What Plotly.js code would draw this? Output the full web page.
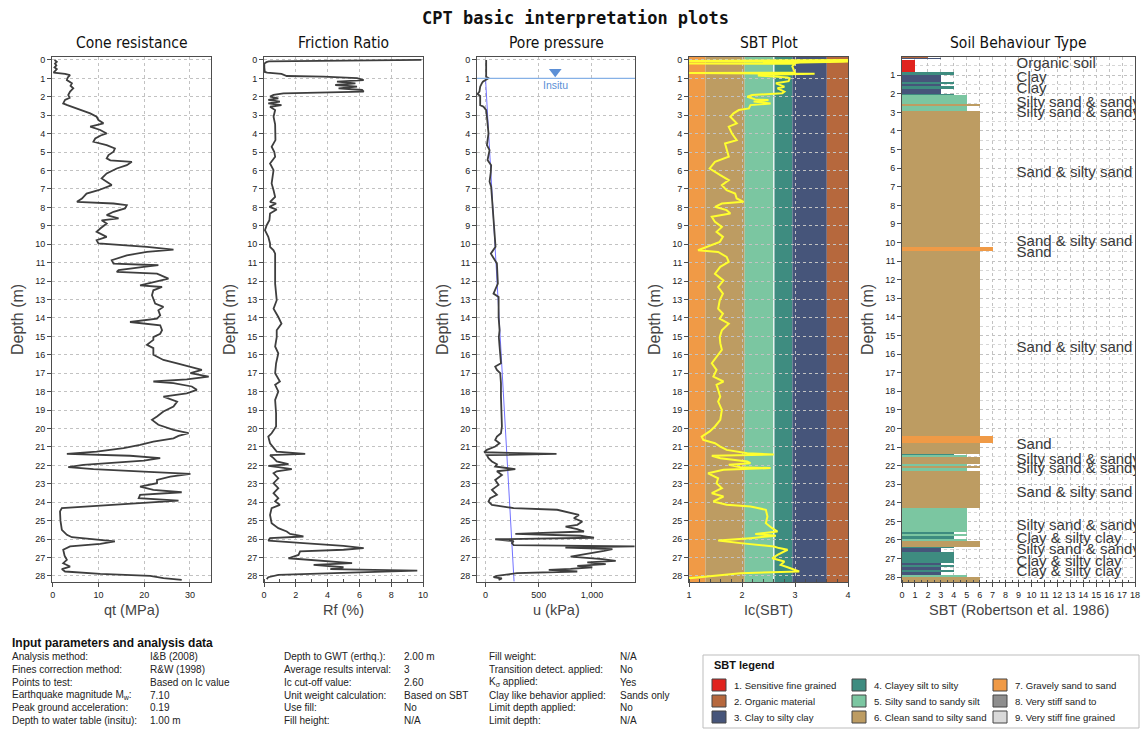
<!DOCTYPE html>
<html>
<head>
<meta charset="utf-8">
<script src="https://cdn.plot.ly/plotly-3.0.1.min.js"></script>
<style>html,body{margin:0;padding:0;background:#fff;}#chart{width:1147px;height:729px;}</style>
</head>
<body>
<div id="chart"></div>
<script>
// ---------------- DATA ----------------
// [depth (m), qt (MPa)]
const qtProfile = [[0,0.4],[0.1,0.9],[0.2,0.5],[0.3,0.8],[0.4,0.4],[0.5,0.9],[0.6,0.5],[0.69,0.2],[0.76,2.7],[0.82,3.8],[0.95,3.3],[1.09,3.1],[1.27,4.2],[1.4,3.9],[1.54,4.5],[1.72,3.8],[1.9,3.4],[2.05,3.7],[2.17,2.7],[2.36,2.3],[2.45,3.2],[2.54,4.2],[2.72,6.0],[2.9,8.2],[3.08,9.6],[3.26,10.0],[3.44,11.1],[3.5,10.2],[3.62,8.2],[3.8,10.4],[3.99,11.8],[4.1,10.5],[4.26,9.3],[4.44,8.9],[4.62,11.8],[4.8,13.6],[4.98,13.3],[5.16,12.2],[5.34,11.8],[5.45,12.6],[5.53,17.3],[5.71,16.2],[5.89,14.0],[6.16,11.8],[6.43,10.7],[6.61,11.8],[6.79,12.9],[7.07,10.0],[7.25,7.4],[7.52,6.4],[7.7,5.3],[7.79,13.3],[7.88,16.2],[8.06,15.8],[8.24,13.3],[8.42,11.8],[8.6,14.4],[8.7,10.7],[8.88,11.8],[9.15,10.4],[9.33,9.6],[9.6,11.8],[9.78,9.6],[9.96,10.0],[10.14,20.6],[10.29,26.4],[10.42,20.6],[10.6,16.2],[10.87,12.9],[11.05,13.3],[11.14,23.1],[11.23,19.9],[11.41,14.4],[11.5,14.0],[11.6,22.8],[11.87,25.3],[12.05,22.0],[12.23,19.1],[12.32,23.9],[12.5,22.0],[12.77,21.7],[12.95,22.0],[13.22,22.4],[13.4,24.2],[13.59,23.1],[13.86,23.5],[14.04,22.8],[14.22,16.9],[14.4,23.5],[14.67,23.9],[14.86,23.5],[15.04,22.0],[15.19,22.0],[15.46,20.6],[15.64,22.0],[16.0,22.0],[16.28,24.2],[16.46,27.2],[16.64,30.1],[16.82,32.6],[17.0,30.1],[17.18,34.1],[17.33,29.3],[17.45,22.0],[17.54,26.4],[17.72,30.4],[17.9,31.5],[18.09,29.3],[18.27,24.2],[18.54,27.2],[18.81,26.4],[19.08,24.2],[19.35,22.8],[19.53,21.7],[19.8,23.1],[20.07,26.4],[20.25,29.7],[20.4,27.5],[20.53,26.4],[20.71,22.0],[20.89,19.1],[21.07,15.5],[21.25,9.6],[21.38,3.1],[21.48,16.9],[21.61,23.5],[21.74,19.9],[21.85,12.6],[21.97,6.7],[22.1,3.4],[22.21,8.9],[22.34,19.9],[22.46,30.1],[22.61,25.7],[22.79,22.8],[22.97,22.8],[23.15,19.1],[23.33,22.0],[23.46,28.2],[23.6,19.1],[23.78,18.8],[23.91,27.5],[24.05,19.1],[24.2,10.4],[24.32,2.0],[24.5,1.6],[25.0,1.7],[25.5,2.0],[25.77,3.1],[25.9,4.2],[26.01,9.6],[26.13,13.6],[26.26,10.4],[26.4,3.8],[26.58,2.3],[26.9,2.6],[27.13,3.1],[27.31,2.3],[27.49,3.8],[27.63,2.0],[27.76,2.7],[27.89,10.4],[28.0,21.3],[28.12,24.2],[28.21,28.2]];

// [depth (m), Rf (%)]
const rfProfile = [[0,9.9],[0.03,5.5],[0.08,0.3],[0.12,0.15],[0.2,0.02],[0.4,0.02],[0.65,0.05],[0.69,0.2],[0.72,0.8],[0.76,1.1],[0.87,1.43],[0.9,3.75],[0.99,5.85],[1.09,6.27],[1.18,4.59],[1.27,5.75],[1.36,4.48],[1.45,5.85],[1.54,4.69],[1.63,6.17],[1.72,6.27],[1.81,1.22],[1.9,0.6],[1.99,0.38],[2.08,0.9],[2.17,0.27],[2.26,1.0],[2.36,0.27],[2.45,1.1],[2.54,0.38],[2.72,0.7],[3.08,0.6],[3.5,0.7],[3.99,0.7],[4.35,0.72],[4.71,0.48],[5.0,0.65],[5.25,0.7],[5.62,0.38],[5.98,0.6],[6.3,0.55],[6.7,0.48],[7.07,0.6],[7.43,0.7],[7.7,0.38],[7.79,0.76],[7.97,0.34],[8.12,0.8],[8.33,0.38],[8.7,0.34],[8.97,0.17],[9.24,0.06],[9.6,0.27],[9.96,0.38],[10.14,0.38],[10.33,0.6],[10.51,0.7],[11.23,0.7],[12.14,0.7],[13.04,0.8],[13.5,0.6],[13.95,0.9],[14.31,1.1],[14.67,0.8],[15.04,0.8],[15.55,0.7],[15.92,0.9],[16.46,0.76],[17.0,0.7],[17.45,1.0],[17.63,0.7],[17.99,0.9],[18.45,0.7],[19.17,0.76],[19.89,0.76],[20.26,0.48],[20.44,0.27],[20.8,0.38],[21.07,0.6],[21.25,0.8],[21.38,2.59],[21.45,0.38],[21.61,0.6],[21.79,0.8],[21.94,1.54],[22.03,0.27],[22.1,0.9],[22.21,1.75],[22.32,0.8],[22.43,0.6],[22.7,0.9],[22.97,0.6],[23.24,0.9],[23.51,0.6],[23.78,0.9],[23.96,0.7],[24.14,1.0],[24.32,0.48],[24.69,0.38],[25.14,0.48],[25.41,0.9],[25.59,1.43],[25.72,1.64],[25.86,2.48],[25.95,0.38],[26.08,0.27],[26.22,2.48],[26.37,5.0],[26.49,6.27],[26.58,5.0],[26.67,2.27],[26.86,2.17],[27.04,1.54],[27.13,2.9],[27.22,4.17],[27.31,5.54],[27.4,3.12],[27.53,5.0],[27.63,4.17],[27.71,9.64],[27.82,5.43],[27.94,0.9],[28.07,0.27],[28.17,0.17]];

// [depth (m), u (kPa)]
const uProfile = [[0,6],[0.5,8],[0.9,6],[0.99,28],[1.09,0],[1.18,-25],[1.27,-35],[1.45,-50],[1.72,-57],[1.85,-75],[1.96,-50],[2.2,-48],[2.45,-50],[2.54,-19],[2.72,6],[3.08,13],[3.5,20],[3.99,28],[4.62,13],[4.89,38],[5.43,19],[5.71,53],[6.07,50],[6.61,38],[6.88,53],[7.61,63],[8.51,75],[9.42,82],[10.14,94],[10.51,50],[10.78,75],[11.05,107],[12.14,116],[12.68,75],[12.86,123],[13.95,123],[14.67,132],[15.04,125],[15.55,132],[16.1,138],[16.46,145],[16.64,91],[16.82,107],[17.0,138],[17.54,145],[18.27,145],[19.17,148],[19.89,154],[20.26,145],[20.44,107],[20.62,91],[20.8,132],[20.98,91],[21.16,13],[21.29,-13],[21.38,667],[21.45,13],[21.61,28],[21.79,60],[21.94,107],[22.06,91],[22.21,280],[22.32,107],[22.52,154],[22.79,91],[23.06,123],[23.33,60],[23.6,107],[23.78,44],[23.96,28],[24.14,60],[24.32,264],[24.41,673],[24.6,830],[24.69,877],[24.87,830],[25.05,909],[25.23,862],[25.32,752],[25.46,862],[25.59,925],[25.72,280],[25.82,893],[25.93,1019],[26.01,91],[26.11,264],[26.22,248],[26.33,264],[26.4,1400],[26.47,750],[26.55,1192],[26.64,1113],[26.77,972],[26.95,799],[27.09,1098],[27.18,1223],[27.27,956],[27.36,1129],[27.45,862],[27.53,1003],[27.62,799],[27.67,594],[27.76,862],[27.85,296],[28.0,107],[28.07,75],[28.14,154],[28.21,123]];

// hydrostatic (insitu) pore pressure line: [depth, u]
const hydroLine = [[1.0,0],[28.3,268]];
const waterDepth = 1.0;       // insitu water table (m)
const insituMarkerU = 655;    // kPa position of the marker
const insituLabel = "Insitu";

// [depth (m), Ic]
const icProfile = [[0,4],[0.02,1],[0.04,4],[0.06,1],[0.08,4],[0.1,3.9],[0.14,3.1],[0.17,3.0],[0.19,1.0],[0.21,3.0],[0.35,2.95],[0.5,2.97],[0.69,3.0],[0.71,1.0],[0.75,3.37],[0.8,2.4],[0.85,2.3],[0.9,2.6],[0.95,2.86],[1.0,2.9],[1.15,2.88],[1.27,2.64],[1.45,2.8],[1.54,2.67],[1.72,2.8],[1.81,2.76],[1.9,2.19],[2.0,2.1],[2.14,2.25],[2.17,2.5],[2.26,2.22],[2.36,2.54],[2.45,2.16],[2.63,2.13],[2.72,1.94],[2.9,1.84],[3.08,1.78],[3.44,1.9],[3.62,1.75],[3.99,1.81],[4.35,1.9],[4.53,1.68],[4.89,1.71],[5.25,1.75],[5.53,1.49],[5.89,1.39],[6.25,1.59],[6.52,1.75],[6.79,1.62],[7.07,1.71],[7.25,1.87],[7.52,1.9],[7.7,2.03],[7.79,1.62],[7.97,1.49],[8.15,1.71],[8.33,1.78],[8.51,1.43],[8.79,1.49],[9.06,1.62],[9.33,1.52],[9.6,1.64],[9.87,1.58],[10.14,1.36],[10.33,1.17],[10.42,1.55],[10.69,1.71],[10.96,1.75],[11.23,1.59],[11.6,1.49],[11.96,1.65],[12.32,1.55],[12.68,1.64],[13.04,1.58],[13.5,1.55],[13.77,1.64],[14.04,1.58],[14.31,1.75],[14.67,1.62],[15.04,1.58],[15.37,1.59],[15.73,1.62],[16.1,1.52],[16.46,1.43],[16.82,1.52],[17.18,1.46],[17.45,1.65],[17.63,1.52],[17.9,1.55],[18.27,1.59],[18.54,1.55],[18.99,1.62],[19.53,1.59],[19.89,1.49],[20.16,1.39],[20.44,1.24],[20.62,1.27],[20.8,1.49],[20.98,1.59],[21.16,1.71],[21.34,2.1],[21.41,2.6],[21.48,1.43],[21.61,1.59],[21.79,2.1],[21.88,2.16],[21.97,1.75],[22.1,1.97],[22.15,2.54],[22.24,1.65],[22.43,1.36],[22.7,1.55],[22.97,1.52],[23.24,1.62],[23.51,1.43],[23.69,1.65],[23.96,1.46],[24.14,1.71],[24.23,2.16],[24.41,2.45],[24.78,2.48],[25.14,2.45],[25.41,2.57],[25.59,2.67],[25.72,2.25],[25.82,2.64],[25.95,2.16],[26.08,1.55],[26.22,1.97],[26.4,2.6],[26.49,2.7],[26.58,2.86],[26.86,2.67],[27.04,2.57],[27.22,2.8],[27.4,2.73],[27.53,2.86],[27.67,2.99],[27.76,3.08],[27.85,1.97],[28.03,1.33],[28.12,1.01],[28.2,1.0]];

// Ic zone boundaries (SBTn) and zone numbers for the bands
const icBounds = [1.0, 1.31, 2.05, 2.60, 2.95, 3.60, 4.0];
const icBandZones = [7, 6, 5, 4, 3, 2];
const icCutoff = 2.60;

// SBT layers: [top depth, bottom depth, zone]
const sbtLayers = [[0,0.08,2],[0.08,0.15,3],[0.19,0.82,1],[0.85,1.0,4],[1.0,1.35,3],[1.35,1.45,4],[1.45,1.6,3],[1.6,1.75,4],[1.75,2.0,3],[2.0,2.05,4],[2.05,2.55,5],[2.55,2.65,6],[2.65,2.9,5],[2.9,10.23,6],[10.23,10.45,7],[10.45,20.4,6],[20.4,20.8,7],[20.8,21.38,6],[21.38,21.45,4],[21.45,21.55,5],[21.55,21.93,6],[21.93,22.0,5],[22.0,22.15,6],[22.15,22.28,5],[22.28,24.3,6],[24.3,25.55,5],[25.55,25.7,4],[25.7,25.8,5],[25.8,25.95,4],[25.95,26.04,5],[26.04,26.36,6],[26.36,26.45,4],[26.45,26.62,3],[26.62,27.05,4],[27.05,27.1,5],[27.1,27.25,4],[27.25,27.35,3],[27.35,27.45,4],[27.45,27.6,3],[27.6,27.7,4],[27.7,27.88,3],[27.88,27.98,5],[27.98,28.25,6]];

// SBT text labels: [depth, text]
const sbtLabelDepths = [0.41,1.18,1.77,2.52,3.06,6.29,10.0,10.6,15.7,20.9,21.7,22.2,23.5,25.25,25.96,26.57,27.2,27.76];
const sbtLabelTexts = ["Organic soil","Clay","Clay","Silty sand &amp; sandy silt","Silty sand &amp; sandy silt","Sand &amp; silty sand","Sand &amp; silty sand","Sand","Sand &amp; silty sand","Sand","Silty sand &amp; sandy silt","Silty sand &amp; sandy silt","Sand &amp; silty sand","Silty sand &amp; sandy silt","Clay &amp; silty clay","Silty sand &amp; sandy silt","Clay &amp; silty clay","Clay &amp; silty clay"];
const sbtLabelX = 8.85;

// SBT legend
const sbtLegendNames = ["1. Sensitive fine grained","2. Organic material","3. Clay to silty clay","4. Clayey silt to silty","5. Silty sand to sandy silt","6. Clean sand to silty sand","7. Gravely sand to sand","8. Very stiff sand to","9. Very stiff fine grained"];
const sbtColors = {1:"#e0231e",2:"#b6683d",3:"#46557a",4:"#3e8c80",5:"#7bc6a1",6:"#bd9c62",7:"#f09a46",8:"#8e8e8e",9:"#d9d9d9"};

// Titles / texts
const mainTitle = "CPT basic interpretation plots";
const panelTitles = ["Cone resistance","Friction Ratio","Pore pressure","SBT Plot","Soil Behaviour Type"];
const xTitles = ["qt (MPa)","Rf (%)","u (kPa)","Ic(SBT)","SBT (Robertson et al. 1986)"];
const yTitle = "Depth (m)";

const paramHeader = "Input parameters and analysis data";
const paramLabels1 = ["Analysis method:","Fines correction method:","Points to test:","Earthquake magnitude M<sub>w</sub>:","Peak ground acceleration:","Depth to water table (insitu):"];
const paramValues1 = ["I&amp;B (2008)","R&amp;W (1998)","Based on Ic value","7.10","0.19","1.00 m"];
const paramLabels2 = ["Depth to GWT (erthq.):","Average results interval:","Ic cut-off value:","Unit weight calculation:","Use fill:","Fill height:"];
const paramValues2 = ["2.00 m","3","2.60","Based on SBT","No","N/A"];
const paramLabels3 = ["Fill weight:","Transition detect. applied:","K<sub>σ</sub> applied:","Clay like behavior applied:","Limit depth applied:","Limit depth:"];
const paramValues3 = ["N/A","No","Yes","Sands only","No","N/A"];

// ---------------- LAYOUT HELPERS ----------------
const W = 1147, H = 729;
const px = x => x / W;
const py = y => 1 - y / H;
const doms = [[52,211],[264,423],[477,635],[689,848],[902,1135]];
const yDom = [py(582), py(57)];
const FONT = "Liberation Sans, Arial, sans-serif";
const lineCol = "#4d4d4d";
const gridCol = "#c2c2c2";
const curveCol = "#3e3e3e";

function xAxis(i, extra) {
  return Object.assign({
    domain: [px(doms[i][0]), px(doms[i][1])],
    anchor: i === 0 ? 'y' : 'y' + (i + 1),
    showline: true, linecolor: lineCol, linewidth: 1, mirror: true,
    ticks: 'outside', ticklen: 4, tickcolor: lineCol,
    showgrid: true, gridcolor: gridCol, griddash: 'dot', gridwidth: 1,
    zeroline: false, tickfont: {family: FONT, size: 9, color: '#222'},
    fixedrange: true
  }, extra);
}
function yAxis(i, extra) {
  return Object.assign({
    domain: yDom,
    anchor: i === 0 ? 'x' : 'x' + (i + 1),
    range: [28.33, -0.16], autorange: false,
    tick0: 0, dtick: 1,
    showline: true, linecolor: lineCol, linewidth: 1, mirror: true,
    ticks: 'outside', ticklen: 4, tickcolor: lineCol,
    showgrid: true, gridcolor: gridCol, griddash: 'dot', gridwidth: 1,
    zeroline: false, tickfont: {family: FONT, size: 9, color: '#222'},
    fixedrange: true
  }, extra);
}

// ---------------- TRACES ----------------
const traces = [];
traces.push({type:'scatter', mode:'lines', x: qtProfile.map(p=>p[1]), y: qtProfile.map(p=>p[0]),
  xaxis:'x', yaxis:'y', line:{color:curveCol, width:1.8}, hoverinfo:'skip'});
traces.push({type:'scatter', mode:'lines', x: rfProfile.map(p=>p[1]), y: rfProfile.map(p=>p[0]),
  xaxis:'x2', yaxis:'y2', line:{color:curveCol, width:1.8}, hoverinfo:'skip'});
traces.push({type:'scatter', mode:'lines', x: hydroLine.map(p=>p[1]), y: hydroLine.map(p=>p[0]),
  xaxis:'x3', yaxis:'y3', line:{color:'#7272ff', width:1}, hoverinfo:'skip'});
traces.push({type:'scatter', mode:'lines', x: uProfile.map(p=>p[1]), y: uProfile.map(p=>p[0]),
  xaxis:'x3', yaxis:'y3', line:{color:curveCol, width:1.8}, hoverinfo:'skip'});
traces.push({type:'scatter', mode:'markers', x:[insituMarkerU], y:[waterDepth - 0.36],
  xaxis:'x3', yaxis:'y3', marker:{symbol:'triangle-down', size:11, color:'#5b8fd6'}, hoverinfo:'skip'});
traces.push({type:'scatter', mode:'lines', x: icProfile.map(p=>p[1]), y: icProfile.map(p=>p[0]),
  xaxis:'x4', yaxis:'y4', line:{color:'#ffff2e', width:2}, hoverinfo:'skip'});
traces.push({type:'bar', orientation:'h',
  x: sbtLayers.map(l=>l[2]),
  y: sbtLayers.map(l=>(l[0]+l[1])/2),
  width: sbtLayers.map(l=>l[1]-l[0]),
  marker:{color: sbtLayers.map(l=>sbtColors[l[2]]), line:{width:0}},
  xaxis:'x5', yaxis:'y5', hoverinfo:'skip'});
traces.push({type:'scatter', mode:'text', x: sbtLabelDepths.map(()=>sbtLabelX), y: sbtLabelDepths,
  text: sbtLabelTexts, textposition:'middle right', cliponaxis:true,
  textfont:{family:FONT, size:15, color:'#3a3a3a'},
  xaxis:'x5', yaxis:'y5', hoverinfo:'skip'});

// ---------------- SHAPES ----------------
const shapes = [];
for (let i = 0; i < icBandZones.length; i++) {
  shapes.push({type:'rect', xref:'x4', yref:'y4 domain', x0:icBounds[i], x1:icBounds[i+1], y0:0, y1:1,
    fillcolor: sbtColors[icBandZones[i]], line:{width:0}, layer:'below'});
}
shapes.push({type:'line', xref:'x4', yref:'y4 domain', x0:icCutoff, x1:icCutoff, y0:0, y1:1,
  line:{color:'rgba(255,255,255,0.85)', width:1.5}, layer:'below'});
shapes.push({type:'line', xref:'x3 domain', yref:'y3', x0:0, x1:1, y0:waterDepth, y1:waterDepth,
  line:{color:'#86b1e6', width:1.2}, layer:'above'});
// SBT legend box
shapes.push({type:'rect', xref:'paper', yref:'paper', x0:px(703), x1:px(1139), y0:py(728), y1:py(655),
  line:{color:'#bdbdbd', width:1}, fillcolor:'rgba(0,0,0,0)'});

// ---------------- ANNOTATIONS ----------------
const ann = [];
ann.push({xref:'paper', yref:'paper', x:px(575), y:py(18), text:'<b>'+mainTitle+'</b>', showarrow:false,
  font:{family:'DejaVu Sans Mono, monospace', size:17, color:'#111'}, xanchor:'center', yanchor:'middle'});
for (let i = 0; i < 5; i++) {
  const cx = (doms[i][0] + doms[i][1]) / 2;
  ann.push({xref:'paper', yref:'paper', x:px(cx), y:py(43), text:panelTitles[i], showarrow:false,
    font:{family:'Liberation Sans Narrow, Arial Narrow, DejaVu Sans Condensed, sans-serif', size:15.5, color:'#111'},
    xanchor:'center', yanchor:'middle'});
  ann.push({xref:'paper', yref:'paper', x:px(cx), y:py(610), text:xTitles[i], showarrow:false,
    font:{family:FONT, size:14.5, color:'#444'}, xanchor:'center', yanchor:'middle'});
  ann.push({xref:'paper', yref:'paper', x:px(doms[i][0]-34), y:py(320), text:yTitle, showarrow:false,
    textangle:-90, font:{family:FONT, size:16, color:'#444'}, xanchor:'center', yanchor:'middle'});
}
ann.push({xref:'x3', yref:'y3', x:insituMarkerU, y:waterDepth + 0.38, text:insituLabel, showarrow:false,
  font:{family:FONT, size:10.5, color:'#5b8fd6'}, xanchor:'center', yanchor:'middle'});

// Parameters block
ann.push({xref:'paper', yref:'paper', x:px(10), y:py(643), text:'<b>'+paramHeader+'</b>', showarrow:false,
  font:{family:FONT, size:12, color:'#111'}, xanchor:'left', yanchor:'middle'});
const rowY = [656.5, 669.5, 682, 695, 707.5, 720];
const cols = [[10,148,paramLabels1,paramValues1],[282,402,paramLabels2,paramValues2],[487,618,paramLabels3,paramValues3]];
cols.forEach(c => {
  for (let r = 0; r < 6; r++) {
    ann.push({xref:'paper', yref:'paper', x:px(c[0]), y:py(rowY[r]), text:c[2][r], showarrow:false,
      font:{family:FONT, size:10, color:'#222'}, xanchor:'left', yanchor:'middle'});
    ann.push({xref:'paper', yref:'paper', x:px(c[1]), y:py(rowY[r]), text:c[3][r], showarrow:false,
      font:{family:FONT, size:10, color:'#222'}, xanchor:'left', yanchor:'middle'});
  }
});

// SBT legend
ann.push({xref:'paper', yref:'paper', x:px(712), y:py(665), text:'<b>SBT legend</b>', showarrow:false,
  font:{family:FONT, size:11, color:'#111'}, xanchor:'left', yanchor:'middle'});
const legColX = [712, 852, 993];
const legRowY = [685, 701, 717];
sbtLegendNames.forEach((name, k) => {
  const c = Math.floor(k / 3), r = k % 3;
  const sx = legColX[c], sy = legRowY[r];
  shapes.push({type:'rect', xref:'paper', yref:'paper', x0:px(sx), x1:px(sx+14), y0:py(sy+6), y1:py(sy-6),
    fillcolor: sbtColors[k+1], line:{color:'#444', width:1}});
  ann.push({xref:'paper', yref:'paper', x:px(sx+20), y:py(sy), text:name, showarrow:false,
    font:{family:FONT, size:9.6, color:'#222'}, xanchor:'left', yanchor:'middle'});
});

// ---------------- LAYOUT ----------------
const layout = {
  width: W, height: H,
  margin: {l:0, r:0, t:0, b:0},
  paper_bgcolor: '#ffffff', plot_bgcolor: '#ffffff',
  showlegend: false, hovermode: false,
  font: {family: FONT, size: 10, color: '#222'},
  xaxis:  xAxis(0, {range:[-0.15, 34.6], tick0:0, dtick:10}),
  xaxis2: xAxis(1, {range:[0, 10], tick0:0, dtick:2,
            minor:{dtick:1, ticks:'inside', ticklen:3, tickcolor:lineCol, showgrid:false}}),
  xaxis3: xAxis(2, {range:[-80, 1404], tickvals:[0,500,1000], separatethousands:true, tickformat:',d'}),
  xaxis4: xAxis(3, {range:[1, 4], tick0:1, dtick:1,
            minor:{dtick:0.2, ticks:'inside', ticklen:3, tickcolor:lineCol, showgrid:false}}),
  xaxis5: xAxis(4, {range:[0, 18], tick0:0, dtick:1,
            minor:{dtick:0.5, ticks:'inside', ticklen:2, tickcolor:lineCol, showgrid:false}}),
  yaxis:  yAxis(0, {}),
  yaxis2: yAxis(1, {}),
  yaxis3: yAxis(2, {}),
  yaxis4: yAxis(3, {}),
  yaxis5: yAxis(4, {range:[28.26, 0.02], tick0:1, dtick:1,
            minor:{dtick:0.5, showgrid:true, gridcolor:'#d6d6d6', griddash:'dot', ticks:''}}),
  shapes: shapes,
  annotations: ann,
  bargap: 0
};

Plotly.newPlot('chart', traces, layout, {displayModeBar:false, staticPlot:true});
</script>
</body>
</html>
